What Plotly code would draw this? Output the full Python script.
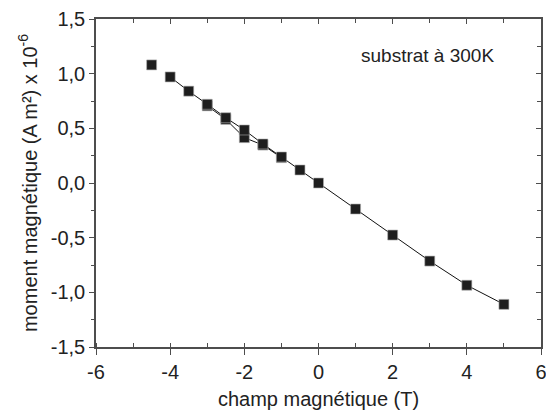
import plotly.graph_objects as go

# main branch
field_main = [-4, -3.5, -3, -2.5, -2, -1.5, -1, -0.5, 0, 1, 2, 3, 4, 5]
moment_main = [0.97, 0.84, 0.72, 0.597, 0.485, 0.357, 0.238, 0.119, 0.0, -0.238, -0.476, -0.714, -0.935, -1.11]
# return branch (loop)
field_loop = [-3, -2.5, -2, -1.5, -1]
moment_loop = [0.706, 0.582, 0.415, 0.347, 0.232]
# isolated point
field_iso = [-4.5]
moment_iso = [1.08]

x_ticks = [-6, -4, -2, 0, 2, 4, 6]
x_labels = ["-6", "-4", "-2", "0", "2", "4", "6"]
y_ticks = [-1.5, -1.0, -0.5, 0.0, 0.5, 1.0, 1.5]
y_labels = ["-1,5", "-1,0", "-0,5", "0,0", "0,5", "1,0", "1,5"]

FONT = "Liberation Sans, Arial, sans-serif"
AX = "#4d4d4d"
MK = "#1e1e1e"
mk = dict(symbol="square", size=10, color=MK, line=dict(color="#b0b0b0", width=0.6))

fig = go.Figure()
fig.add_trace(go.Scatter(x=field_loop, y=moment_loop, mode="lines+markers",
                         line=dict(color="#111", width=1), marker=mk, showlegend=False))
fig.add_trace(go.Scatter(x=field_main, y=moment_main, mode="lines+markers",
                         line=dict(color="#111", width=1), marker=mk, showlegend=False))
fig.add_trace(go.Scatter(x=field_iso, y=moment_iso, mode="markers", marker=mk, showlegend=False))
# dummy trace for mirrored (inside) axes on top/right
fig.add_trace(go.Scatter(x=[None], y=[None], xaxis="x2", yaxis="y2",
                         showlegend=False, hoverinfo="skip"))

fig.update_layout(
    width=546, height=415,
    margin=dict(l=96, r=5, t=19, b=68),
    paper_bgcolor="white", plot_bgcolor="white",
    font=dict(family=FONT, color="#222", size=20),
    xaxis=dict(range=[-6, 6], tickvals=x_ticks, ticktext=x_labels, automargin=False,
               ticklabeloverflow="allow",
               showgrid=False, zeroline=False, showline=True, linecolor=AX, linewidth=1.5,
               ticks="outside", ticklen=6, tickwidth=1.2, tickcolor=AX,
               minor=dict(dtick=1, ticks="inside", ticklen=4, tickcolor=AX, tickwidth=1.2),
               tickfont=dict(size=20),
               title=dict(text="champ magnétique (T)", font=dict(size=20), standoff=10)),
    yaxis=dict(range=[-1.5, 1.5], tickvals=y_ticks, ticktext=y_labels, automargin=False,
               showgrid=False, zeroline=False, showline=True, linecolor=AX, linewidth=1.5,
               ticks="outside", ticklen=5, tickwidth=1.2, tickcolor=AX,
               minor=dict(dtick=0.25, ticks="outside", ticklen=3, tickcolor=AX, tickwidth=1.2),
               tickfont=dict(size=20),
               title=dict(text="moment magnétique (A m²) x 10<sup>-6</sup>", font=dict(size=20), standoff=8)),
    xaxis2=dict(overlaying="x", side="top", anchor="y2", range=[-6, 6],
                tickvals=x_ticks, showticklabels=False, showgrid=False, zeroline=False,
                showline=True, linecolor=AX, linewidth=1.5,
                ticks="inside", ticklen=5, tickwidth=1.2, tickcolor=AX,
                minor=dict(dtick=1, ticks="inside", ticklen=4, tickcolor=AX, tickwidth=1.2)),
    yaxis2=dict(overlaying="y", side="right", anchor="x2", range=[-1.5, 1.5],
                tickvals=y_ticks, showticklabels=False, showgrid=False, zeroline=False,
                showline=True, linecolor=AX, linewidth=1.5,
                ticks="inside", ticklen=5, tickwidth=1.2, tickcolor=AX,
                minor=dict(dtick=0.25, ticks="inside", ticklen=4, tickcolor=AX, tickwidth=1.2)),
    annotations=[dict(x=2.93, y=1.17, xref="x", yref="y", text="substrat à 300K",
                      showarrow=False, font=dict(size=19, color="#222"))],
)

fig.write_html("out.html", config={"displayModeBar": False},
               post_script="document.body.style.margin='0';document.body.style.overflow='hidden';")
